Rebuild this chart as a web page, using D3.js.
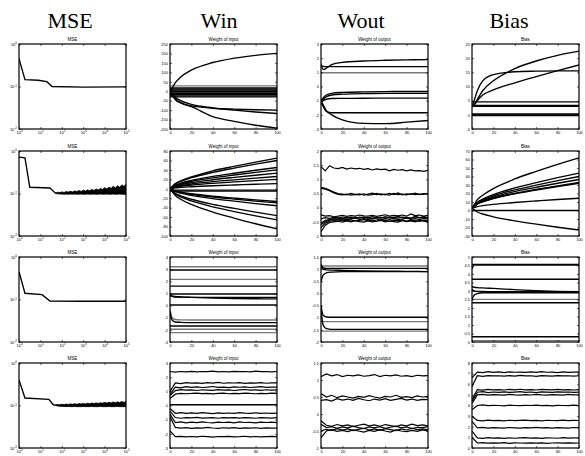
<!DOCTYPE html>
<html>
<head>
<meta charset="utf-8">
<script src="https://cdn.jsdelivr.net/npm/d3@7"></script>
<style>
  body { margin: 0; background: #fff; }
  svg { display: block; }
</style>
</head>
<body>
<svg id="chart" width="585" height="456"></svg>
<script>

// column headings and panel titles
var colTitles = ["MSE", "Win", "Wout", "Bias"];
var subTitles = ["MSE", "Weight of input", "Weight of output", "Bias"];

// shared x grids
var epochTicks = [0, 20, 40, 60, 80, 100];
var mseXTicks = [1, 10, 100, 1000, 10000, 100000];
var mseYTicks = [0.01, 0.1, 1];
var epochs = [0, 2, 5, 10, 20, 40, 60, 80, 100];
var epochsN = [0, 4, 8, 12, 16, 20, 24, 28, 32, 36, 40, 44, 48, 52, 56, 60, 64, 68, 72, 76, 80, 84, 88, 92, 96, 100];
var epochsM = [0, 5, 10, 15, 20, 25, 30, 35, 40, 45, 50, 55, 60, 65, 70, 75, 80, 85, 90, 95, 100];
var bandEpochs = [50, 65, 80, 100, 130, 160, 200, 250, 320, 400, 500, 650, 800, 1000, 1300, 1600, 2000, 2500, 3200, 4000,
  5000, 6500, 8000, 10000, 13000, 16000, 20000, 25000, 32000, 40000, 50000, 65000, 80000, 100000];

// ---- row 1 ----
var mse1 = [[1, 0.45], [1.9, 0.145], [8, 0.14], [20, 0.13], [35, 0.1], [1000, 0.097], [100000, 0.098]];

var win1Ticks = [-200, -150, -100, -50, 0, 50, 100, 150, 200, 250];
var win1Lines = [
  [-10, 15, 45, 75, 112, 152, 175, 190, 200],
  [-10, -20, -40, -60, -78, -90, -95, -98, -100],
  [-10, -15, -32, -50, -70, -88, -100, -110, -118],
  [-10, -22, -45, -62, -82, -135, -160, -180, -195]
];
var win1Flat = [18, 12, 6, 0, -5, -12, -18, -25, -30];
var win1FlatGray = [28];

var wout1Ticks = [-3, -2, -1, 0, 1, 2, 3];
var wout1Lines = [
  [1.6, 1.2, 1.3, 1.55, 1.7, 1.8, 1.85, 1.88, 1.9],
  [1.5, 1.42, 1.4, 1.4, 1.4, 1.4, 1.4, 1.4, 1.4],
  [-1.0, -0.8, -0.6, -0.48, -0.42, -0.38, -0.36, -0.35, -0.35],
  [-1.05, -0.9, -0.72, -0.6, -0.54, -0.5, -0.49, -0.48, -0.48],
  [-1.1, -1.0, -0.9, -0.85, -0.84, -0.83, -0.82, -0.82, -0.82],
  [-1.1, -1.4, -1.75, -1.85, -1.85, -1.85, -1.85, -1.85, -1.85],
  [-1.0, -1.3, -1.7, -2.0, -2.35, -2.6, -2.62, -2.52, -2.4]
];
var wout1Flat = [];
var wout1FlatGray = [0.97];

var bias1Ticks = [-5, 0, 5, 10, 15, 20, 25];
var bias1Lines = [
  [2.8, 5, 8.5, 12, 14.2, 15.2, 15.4, 15.5, 15.5],
  [2.8, 3.5, 5.5, 8.5, 12, 16.3, 19, 21, 22.5],
  [2.8, 3.5, 5, 7, 8.8, 11.3, 13.5, 15.6, 17.6]
];
var bias1Flat = [4.6, 3.3, 3.0, 0.3, 0, -0.3];
var bias1FlatGray = [];

// ---- row 2 ----
var mse2 = [[1, 0.72], [1.9, 0.69], [3.2, 0.14], [28, 0.135], [50, 0.102]];
var mse2Low = [0.1, 0.098, 0.097, 0.097, 0.096, 0.097, 0.096, 0.097, 0.096, 0.097, 0.096, 0.096, 0.097, 0.096, 0.096, 0.097, 0.096,
  0.096, 0.097, 0.096, 0.096, 0.097, 0.096, 0.096, 0.097, 0.096, 0.096, 0.097, 0.096, 0.096, 0.097, 0.096, 0.096, 0.097];
var mse2High = [0.104, 0.107, 0.105, 0.109, 0.106, 0.111, 0.108, 0.113, 0.109, 0.115, 0.111, 0.117, 0.112, 0.12, 0.114, 0.122, 0.116,
  0.125, 0.118, 0.128, 0.121, 0.132, 0.124, 0.137, 0.127, 0.142, 0.131, 0.148, 0.135, 0.153, 0.14, 0.16, 0.146, 0.168];

var win2Ticks = [-100, -80, -60, -40, -20, 0, 20, 40, 60, 80];
var win2Lines = [
  [0, 4.5, 11, 17, 25, 38, 47.5, 56.5, 65],
  [0, 4.2, 10, 15.6, 23.4, 34.8, 43.8, 52.2, 60],
  [0, 3.2, 7.7, 11.7, 17.6, 26.1, 32.9, 39.2, 45],
  [0, 2.8, 6.8, 10.4, 15.6, 23.2, 29.2, 34.8, 40],
  [0, 2.3, 5.6, 8.6, 12.9, 19.1, 24.1, 28.7, 33],
  [0, 1.8, 4.4, 6.8, 10.1, 15.1, 19, 22.6, 26],
  [0, 1.4, 3.4, 5.2, 7.8, 11.6, 14.6, 17.4, 20],
  [0, 0.8, 1.9, 2.9, 4.3, 6.4, 8, 9.6, 11],
  [0, -1.9, -4.6, -7, -10.5, -15.7, -19.7, -23.5, -27],
  [0, -2.1, -5.1, -7.8, -11.7, -17.4, -21.9, -26.1, -30],
  [0, -2.5, -6.1, -9.4, -14, -20.9, -26.3, -31.3, -36],
  [0, -4, -9.7, -14.8, -22.2, -33.1, -41.6, -49.6, -57],
  [0, -4.6, -11.2, -17.2, -25.7, -38.3, -48.2, -57.4, -66],
  [0, -6, -14.5, -22.1, -33.2, -49.3, -62, -74, -85]
];
var win2Flat = [-3, -5];
var win2FlatGray = [];

var wout2Ticks = [-1, -0.5, 0, 0.5, 1, 1.5, 2];
var wout2Noisy = [
  [1.45, 1.3, 1.48, 1.4, 1.38, 1.42, 1.36, 1.4, 1.37, 1.39, 1.35, 1.38, 1.33, 1.37, 1.34, 1.36, 1.3, 1.35, 1.32, 1.34, 1.3, 1.33, 1.3, 1.31, 1.28, 1.32],
  [0.68, 0.65, 0.6, 0.52, 0.47, 0.45, 0.48, 0.44, 0.47, 0.45, 0.49, 0.44, 0.46, 0.5, 0.45, 0.48, 0.44, 0.5, 0.46, 0.48, 0.45, 0.49, 0.46, 0.48, 0.47, 0.5],
  [0.72, 0.68, 0.62, 0.55, 0.5, 0.48, 0.45, 0.5, 0.46, 0.49, 0.44, 0.48, 0.51, 0.46, 0.49, 0.45, 0.5, 0.46, 0.52, 0.45, 0.49, 0.47, 0.51, 0.46, 0.5, 0.48],
  [-0.25, -0.3, -0.28, -0.32, -0.3, -0.27, -0.31, -0.28, -0.3, -0.26, -0.29, -0.3, -0.27, -0.31, -0.28, -0.25, -0.3, -0.27, -0.29, -0.26, -0.3, -0.22, -0.28, -0.26, -0.3, -0.27],
  [-0.4, -0.35, -0.38, -0.34, -0.37, -0.33, -0.36, -0.34, -0.38, -0.33, -0.35, -0.37, -0.32, -0.36, -0.34, -0.37, -0.33, -0.35, -0.31, -0.36, -0.34, -0.37, -0.33, -0.35, -0.32, -0.35],
  [-0.55, -0.45, -0.42, -0.4, -0.43, -0.39, -0.42, -0.4, -0.37, -0.41, -0.39, -0.42, -0.38, -0.4, -0.43, -0.39, -0.41, -0.38, -0.42, -0.4, -0.37, -0.41, -0.39, -0.42, -0.38, -0.4],
  [-0.7, -0.55, -0.48, -0.45, -0.47, -0.44, -0.46, -0.43, -0.47, -0.45, -0.42, -0.46, -0.44, -0.47, -0.43, -0.45, -0.48, -0.44, -0.46, -0.43, -0.47, -0.44, -0.46, -0.48, -0.44, -0.46],
  [-0.85, -0.62, -0.52, -0.5, -0.48, -0.51, -0.47, -0.5, -0.46, -0.49, -0.51, -0.47, -0.5, -0.48, -0.45, -0.5, -0.47, -0.49, -0.51, -0.46, -0.49, -0.47, -0.5, -0.45, -0.48, -0.5],
  [-0.6, -0.5, -0.44, -0.38, -0.36, -0.4, -0.35, -0.38, -0.34, -0.37, -0.33, -0.36, -0.39, -0.35, -0.37, -0.32, -0.36, -0.34, -0.37, -0.33, -0.35, -0.38, -0.3, -0.36, -0.34, -0.37]
];

var bias2Ticks = [-30, -20, -10, 0, 10, 20, 30, 40, 50, 60, 70];
var bias2Lines = [
  [2.6, 6.8, 12.7, 18.0, 25.8, 37.1, 46, 54.3, 62],
  [2.6, 5.5, 9.6, 13.4, 18.7, 26.6, 32.8, 38.6, 44],
  [2.6, 5.2, 9, 12.3, 17.2, 24.3, 29.9, 35.1, 40],
  [2.6, 5, 8.4, 11.4, 15.8, 22.3, 27.3, 32.1, 36.5],
  [2.6, 4.7, 7.8, 10.5, 14.5, 20.2, 24.8, 29, 33],
  [2.6, 4.7, 7.6, 10.2, 14.1, 19.7, 24.1, 28.2, 32],
  [2.6, 3.4, 4.6, 5.7, 7.2, 9.4, 11.2, 12.9, 14.4],
  [2.6, 0.8, -1.8, -4.1, -7.4, -12.2, -16.1, -19.7, -23]
];
var bias2Flat = [0];
var bias2FlatGray = [];

// ---- row 3 ----
var mse3 = [[1, 0.45], [1.9, 0.14], [12, 0.13], [28, 0.092], [1000, 0.091], [100000, 0.091]];

var win3Ticks = [-3, -2, -1, 0, 1, 2, 3, 4];
var win3Lines = [
  [1.0, 0.75, 0.7, 0.69, 0.68, 0.68, 0.68, 0.68, 0.68],
  [0.8, 0.78, 0.75, 0.72, 0.68, 0.62, 0.58, 0.56, 0.55],
  [-0.5, -1.2, -1.35, -1.38, -1.4, -1.4, -1.4, -1.4, -1.4]
];
var win3Gray = [
  [-0.3, -1.0, -1.15, -1.18, -1.19, -1.19, -1.19, -1.19, -1.19]
];
var win3Flat = [2.93, 1.6, 0.95, 0.05, -1.68];
var win3FlatGray = [3.2, 2.16, -1.95, -2.23];

var wout3Ticks = [-2, -1.5, -1, -0.5, 0, 0.5, 1, 1.5];
var wout3Lines = [
  [1.2, 1.05, 1.03, 1.03, 1.03, 1.03, 1.03, 1.03, 1.03],
  [0.5, 0.75, 0.85, 0.88, 0.9, 0.9, 0.9, 0.9, 0.9],
  [1.1, 1.0, 0.97, 0.96, 0.95, 0.93, 0.92, 0.91, 0.9],
  [-0.5, -0.9, -0.97, -0.98, -0.98, -0.98, -0.98, -0.98, -0.98],
  [-0.7, -1.3, -1.45, -1.48, -1.48, -1.48, -1.48, -1.48, -1.48]
];
var wout3Flat = [];
var wout3FlatGray = [1.13, -1.16, -1.55];

var bias3Ticks = [0, 0.5, 1, 1.5, 2, 2.5, 3, 3.5, 4, 4.5, 5];
var bias3Lines = [
  [4.3, 4.53, 4.53, 4.53, 4.53, 4.53, 4.53, 4.53, 4.53],
  [3.25, 3.22, 3.2, 3.18, 3.15, 3.08, 3.02, 2.98, 2.96],
  [3.1, 3.0, 2.98, 2.97, 2.96, 2.96, 2.96, 2.96, 2.96],
  [2.5, 2.75, 2.85, 2.9, 2.9, 2.9, 2.9, 2.9, 2.9]
];
var bias3Flat = [4.57, 3.69, 2.31, 0.31];
var bias3FlatGray = [2.51, 0.08];

// ---- row 4 ----
var mse4 = [[1, 0.4], [1.9, 0.15], [25, 0.14], [40, 0.104], [50, 0.102]];
var mse4Low = [0.1, 0.097, 0.096, 0.095, 0.095, 0.094, 0.095, 0.094, 0.094, 0.095, 0.094, 0.094, 0.094, 0.095, 0.094, 0.094, 0.094,
  0.095, 0.094, 0.094, 0.094, 0.095, 0.094, 0.094, 0.094, 0.095, 0.094, 0.094, 0.094, 0.095, 0.094, 0.094, 0.094, 0.094];
var mse4High = [0.104, 0.106, 0.104, 0.107, 0.105, 0.108, 0.106, 0.109, 0.107, 0.11, 0.107, 0.111, 0.108, 0.112, 0.109, 0.113, 0.11,
  0.114, 0.111, 0.115, 0.112, 0.116, 0.113, 0.118, 0.114, 0.119, 0.115, 0.121, 0.116, 0.122, 0.117, 0.124, 0.118, 0.125];

var win4Ticks = [-3, -2, -1, 0, 1, 2, 3];
var win4Noisy = [
  [2.4, 2.35, 2.4, 2.38, 2.41, 2.37, 2.4, 2.39, 2.42, 2.38, 2.4, 2.37, 2.41, 2.39, 2.4, 2.38, 2.42, 2.39, 2.4, 2.37, 2.4],
  [1.0, 1.6, 1.55, 1.62, 1.58, 1.6, 1.56, 1.61, 1.58, 1.63, 1.57, 1.6, 1.59, 1.62, 1.56, 1.6, 1.58, 1.61, 1.57, 1.6, 1.59],
  [0.8, 1.3, 1.25, 1.33, 1.28, 1.31, 1.27, 1.3, 1.34, 1.28, 1.3, 1.26, 1.32, 1.29, 1.31, 1.27, 1.3, 1.33, 1.28, 1.3, 1.29],
  [0.7, 1.05, 1.12, 1.08, 1.1, 1.06, 1.11, 1.09, 1.07, 1.12, 1.08, 1.1, 1.06, 1.1, 1.13, 1.08, 1.1, 1.07, 1.11, 1.09, 1.1],
  [0.5, 0.8, 0.86, 0.83, 0.85, 0.88, 0.84, 0.86, 0.82, 0.85, 0.87, 0.83, 0.86, 0.84, 0.88, 0.85, 0.83, 0.86, 0.84, 0.87, 0.85],
  [-0.2, -0.55, -0.5, -0.56, -0.52, -0.55, -0.51, -0.54, -0.57, -0.52, -0.55, -0.53, -0.56, -0.51, -0.54, -0.55, -0.52, -0.56, -0.53, -0.55, -0.54],
  [-0.4, -0.85, -0.9, -0.86, -0.88, -0.84, -0.89, -0.87, -0.85, -0.9, -0.86, -0.88, -0.85, -0.89, -0.86, -0.88, -0.9, -0.85, -0.87, -0.89, -0.86],
  [-0.6, -1.2, -1.15, -1.22, -1.18, -1.21, -1.16, -1.2, -1.23, -1.17, -1.2, -1.18, -1.22, -1.16, -1.2, -1.19, -1.23, -1.18, -1.2, -1.17, -1.21],
  [-0.8, -1.55, -1.6, -1.56, -1.62, -1.58, -1.6, -1.55, -1.59, -1.61, -1.57, -1.6, -1.56, -1.62, -1.58, -1.6, -1.57, -1.61, -1.58, -1.6, -1.59],
  [-1.8, -2.2, -2.18, -2.22, -2.19, -2.21, -2.17, -2.2, -2.23, -2.19, -2.2, -2.18, -2.22, -2.2, -2.17, -2.21, -2.19, -2.22, -2.2, -2.18, -2.2]
];
var win4Flat = [0.05];

var wout4Ticks = [-1, -0.5, 0, 0.5, 1, 1.5];
var wout4Noisy = [
  [1.1, 1.18, 1.12, 1.16, 1.1, 1.14, 1.12, 1.15, 1.11, 1.13, 1.16, 1.1, 1.14, 1.12, 1.15, 1.11, 1.13, 1.1, 1.14, 1.12, 1.13],
  [0.6, 0.5, 0.55, 0.48, 0.53, 0.5, 0.47, 0.52, 0.49, 0.54, 0.5, 0.47, 0.52, 0.5, 0.55, 0.49, 0.51, 0.48, 0.53, 0.5, 0.52],
  [0.4, 0.42, 0.38, 0.45, 0.41, 0.44, 0.4, 0.46, 0.42, 0.39, 0.44, 0.41, 0.45, 0.4, 0.43, 0.46, 0.41, 0.44, 0.4, 0.43, 0.42],
  [-0.2, -0.33, -0.36, -0.31, -0.35, -0.32, -0.37, -0.33, -0.3, -0.35, -0.32, -0.36, -0.31, -0.34, -0.37, -0.32, -0.35, -0.3, -0.34, -0.32, -0.35],
  [-0.3, -0.4, -0.37, -0.42, -0.38, -0.41, -0.36, -0.4, -0.43, -0.38, -0.41, -0.37, -0.42, -0.39, -0.36, -0.41, -0.38, -0.43, -0.39, -0.4, -0.37],
  [-0.5, -0.45, -0.48, -0.43, -0.47, -0.44, -0.49, -0.45, -0.42, -0.47, -0.44, -0.48, -0.43, -0.46, -0.49, -0.44, -0.47, -0.42, -0.46, -0.44, -0.47],
  [-0.7, -0.5, -0.46, -0.51, -0.48, -0.52, -0.47, -0.5, -0.53, -0.48, -0.51, -0.46, -0.5, -0.53, -0.47, -0.5, -0.52, -0.48, -0.51, -0.47, -0.5]
];

var bias4Ticks = [0, 1, 2, 3, 4, 5, 6, 7, 8];
var bias4Noisy = [
  [6.6, 7.15, 7.1, 7.18, 7.12, 7.16, 7.1, 7.17, 7.13, 7.15, 7.11, 7.16, 7.12, 7.18, 7.13, 7.15, 7.1, 7.16, 7.12, 7.15, 7.14],
  [5.8, 6.8, 6.75, 6.82, 6.78, 6.8, 6.76, 6.81, 6.77, 6.83, 6.78, 6.8, 6.75, 6.81, 6.79, 6.77, 6.82, 6.78, 6.8, 6.76, 6.8],
  [4.6, 5.5, 5.45, 5.52, 5.48, 5.5, 5.46, 5.51, 5.47, 5.53, 5.48, 5.5, 5.46, 5.52, 5.49, 5.47, 5.51, 5.48, 5.5, 5.46, 5.5],
  [4.4, 5.25, 5.3, 5.22, 5.27, 5.24, 5.29, 5.23, 5.26, 5.3, 5.24, 5.27, 5.22, 5.28, 5.25, 5.23, 5.29, 5.25, 5.27, 5.24, 5.26],
  [4.2, 5.0, 5.05, 4.98, 5.03, 5.0, 4.97, 5.04, 5.0, 4.98, 5.03, 4.99, 5.05, 5.0, 4.97, 5.02, 5.0, 4.98, 5.04, 5.0, 5.01],
  [3.6, 4.0, 4.05, 3.98, 4.02, 4.0, 3.97, 4.03, 4.0, 3.98, 4.02, 4.0, 4.04, 3.99, 4.01, 3.97, 4.02, 4.0, 3.98, 4.03, 4.0],
  [3.0, 2.6, 2.55, 2.62, 2.58, 2.6, 2.56, 2.61, 2.57, 2.6, 2.63, 2.58, 2.6, 2.56, 2.61, 2.59, 2.57, 2.62, 2.58, 2.6, 2.59],
  [2.5, 1.9, 1.95, 1.88, 1.92, 1.9, 1.87, 1.93, 1.9, 1.88, 1.92, 1.9, 1.94, 1.89, 1.91, 1.87, 1.92, 1.9, 1.88, 1.93, 1.9],
  [1.6, 0.95, 0.9, 0.97, 0.93, 0.95, 0.91, 0.96, 0.92, 0.95, 0.98, 0.93, 0.95, 0.91, 0.96, 0.94, 0.92, 0.97, 0.93, 0.95, 0.94],
  [1.0, 0.47, 0.5, 0.45, 0.48, 0.46, 0.5, 0.44, 0.48, 0.47, 0.45, 0.49, 0.46, 0.48, 0.44, 0.47, 0.49, 0.45, 0.48, 0.46, 0.47]
];

// layout
var colX = [19, 170, 321, 472];
var rowY = [44, 151, 257, 363];
var boxW = 107, boxH = 85;
var colTitleX = [70, 219, 361, 509];

function bandRows(xs, lo, hi) {
  return xs.map(function(t, i) { return [t, lo[i], hi[i]]; });
}

var panels = [
  [
    {kind: "mse", line: mse1},
    {yTicks: win1Ticks, x: epochs, lines: win1Lines, flat: win1Flat, flatGray: win1FlatGray},
    {yTicks: wout1Ticks, x: epochs, lines: wout1Lines, flat: wout1Flat, flatGray: wout1FlatGray},
    {yTicks: bias1Ticks, x: epochs, lines: bias1Lines, flat: bias1Flat, flatGray: bias1FlatGray}
  ],
  [
    {kind: "mse", line: mse2, band: bandRows(bandEpochs, mse2Low, mse2High)},
    {yTicks: win2Ticks, x: epochs, lines: win2Lines, flat: win2Flat, flatGray: win2FlatGray},
    {yTicks: wout2Ticks, xn: epochsN, noisy: wout2Noisy},
    {yTicks: bias2Ticks, x: epochs, lines: bias2Lines, flat: bias2Flat, flatGray: bias2FlatGray}
  ],
  [
    {kind: "mse", line: mse3},
    {yTicks: win3Ticks, x: epochs, lines: win3Lines, gray: win3Gray, flat: win3Flat, flatGray: win3FlatGray},
    {yTicks: wout3Ticks, x: epochs, lines: wout3Lines, flat: wout3Flat, flatGray: wout3FlatGray},
    {yTicks: bias3Ticks, x: epochs, lines: bias3Lines, flat: bias3Flat, flatGray: bias3FlatGray}
  ],
  [
    {kind: "mse", line: mse4, band: bandRows(bandEpochs, mse4Low, mse4High)},
    {yTicks: win4Ticks, xn: epochsM, noisy: win4Noisy, flat: win4Flat},
    {yTicks: wout4Ticks, xn: epochsM, noisy: wout4Noisy},
    {yTicks: bias4Ticks, xn: epochsM, noisy: bias4Noisy}
  ]
];

var svg = d3.select("#chart");
var tickFont = "Liberation Sans, Arial, sans-serif";
var lw = 1.35;

// big column headings
svg.selectAll("text.coltitle")
  .data(colTitles)
  .enter().append("text")
    .attr("class", "coltitle")
    .attr("x", function(d, i) { return colTitleX[i]; })
    .attr("y", 28)
    .attr("text-anchor", "middle")
    .style("font-family", "Liberation Serif, Times New Roman, serif")
    .style("font-size", "22px")
    .text(function(d) { return d; });

var clipId = 0;

function drawPanel(g, p, col) {
  var isMse = p.kind === "mse";
  var x = isMse
    ? d3.scaleLog().domain([1, 100000]).range([0, boxW])
    : d3.scaleLinear().domain([0, 100]).range([0, boxW]);
  var y = isMse
    ? d3.scaleLog().domain([0.01, 1]).range([boxH, 0])
    : d3.scaleLinear().domain(d3.extent(p.yTicks)).range([boxH, 0]);

  var id = "clip" + (++clipId);
  g.append("clipPath").attr("id", id)
    .append("rect").attr("width", boxW).attr("height", boxH);
  var plot = g.append("g").attr("clip-path", "url(#" + id + ")");

  var line = d3.line().x(function(d) { return x(d[0]); }).y(function(d) { return y(d[1]); });

  if (isMse) {
    if (p.band) {
      // dense oscillation of the MSE, drawn as its envelope
      plot.append("path")
        .datum(p.band)
        .attr("d", d3.area()
          .x(function(d) { return x(d[0]); })
          .y0(function(d) { return y(d[1]); })
          .y1(function(d) { return y(d[2]); }))
        .style("fill", "#000")
        .style("stroke", "#000")
        .style("stroke-width", 0.8);
    }
    plot.append("path")
      .datum(p.line)
      .attr("d", line)
      .style("fill", "none").style("stroke", "#000").style("stroke-width", lw);
  } else {
    var smooth = d3.line().curve(d3.curveMonotoneX)
      .x(function(d) { return x(d[0]); }).y(function(d) { return y(d[1]); });
    (p.flatGray || []).forEach(function(v) {
      plot.append("path").datum([[0, v], [100, v]]).attr("d", line)
        .style("fill", "none").style("stroke", "#777").style("stroke-width", lw);
    });
    (p.gray || []).forEach(function(ys) {
      plot.append("path").datum(p.x.map(function(t, i) { return [t, ys[i]]; })).attr("d", smooth)
        .style("fill", "none").style("stroke", "#777").style("stroke-width", lw);
    });
    (p.flat || []).forEach(function(v) {
      plot.append("path").datum([[0, v], [100, v]]).attr("d", line)
        .style("fill", "none").style("stroke", "#000").style("stroke-width", lw);
    });
    (p.lines || []).forEach(function(ys) {
      plot.append("path").datum(p.x.map(function(t, i) { return [t, ys[i]]; })).attr("d", smooth)
        .style("fill", "none").style("stroke", "#000").style("stroke-width", lw);
    });
    (p.noisy || []).forEach(function(ys) {
      plot.append("path").datum(p.xn.map(function(t, i) { return [t, ys[i]]; })).attr("d", line)
        .style("fill", "none").style("stroke", "#000").style("stroke-width", 1.2);
    });
  }

  // axes: ticks pointing inward on all four sides, labels left and bottom
  var xt = isMse ? mseXTicks : epochTicks;
  var yt = isMse ? mseYTicks : p.yTicks;
  var fmt = function(d) { return String(d); };

  var ax = g.append("g").attr("transform", "translate(0," + boxH + ")")
    .call(d3.axisBottom(x).tickValues(xt).tickSize(-2).tickPadding(2).tickFormat(isMse ? function() { return "10"; } : fmt));
  var ay = g.append("g")
    .call(d3.axisLeft(y).tickValues(yt).tickSize(-2).tickPadding(2).tickFormat(isMse ? function() { return "10"; } : fmt));
  g.append("g").call(d3.axisTop(x).tickValues(xt).tickSize(-2).tickFormat(""));
  g.append("g").attr("transform", "translate(" + boxW + ",0)")
    .call(d3.axisRight(y).tickValues(yt).tickSize(-2).tickFormat(""));

  g.selectAll(".domain").remove();
  g.selectAll(".tick line").style("stroke", "#000").style("stroke-width", 0.6);
  g.selectAll(".tick text")
    .style("font-family", tickFont)
    .style("font-size", "4px")
    .style("fill", "#000");

  if (isMse) {
    ax.selectAll(".tick text").append("tspan")
      .attr("dy", "-1.5").style("font-size", "3px")
      .text(function(d) { return Math.round(Math.log10(d)); });
    ay.selectAll(".tick text").append("tspan")
      .attr("dy", "-1.5").style("font-size", "3px")
      .text(function(d) { return Math.round(Math.log10(d)); });
  }

  g.append("rect")
    .attr("width", boxW).attr("height", boxH)
    .style("fill", "none").style("stroke", "#000").style("stroke-width", 1.2);

  g.append("text")
    .attr("x", boxW / 2).attr("y", -3)
    .attr("text-anchor", "middle")
    .style("font-family", tickFont)
    .style("font-size", "4.5px")
    .text(subTitles[col]);
}

panels.forEach(function(row, r) {
  row.forEach(function(p, c) {
    var g = svg.append("g").attr("transform", "translate(" + colX[c] + "," + rowY[r] + ")");
    drawPanel(g, p, c);
  });
});

</script>
</body>
</html>
